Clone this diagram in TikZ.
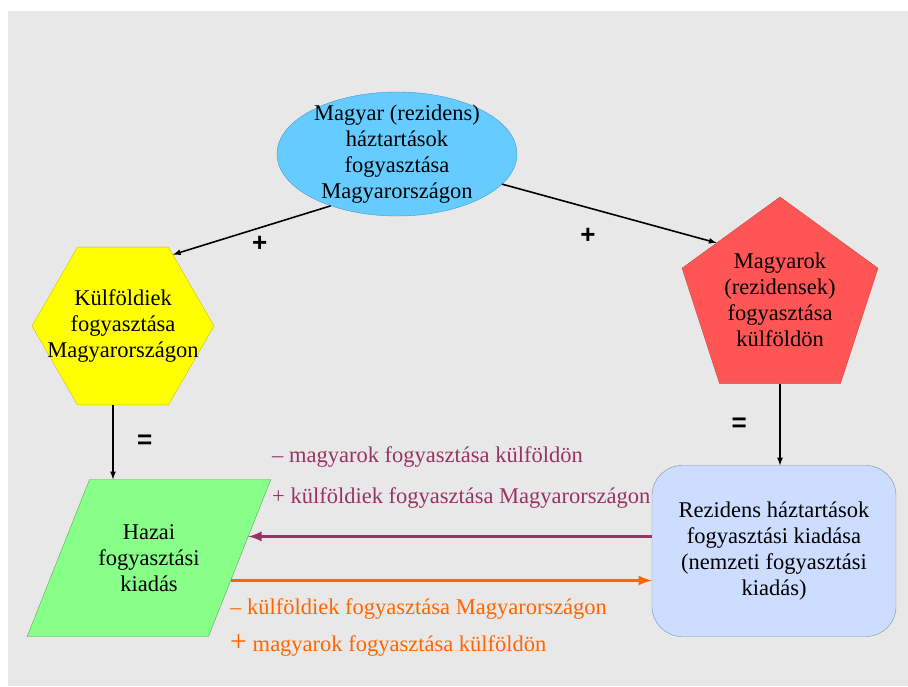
\documentclass[tikz,border=0pt]{standalone}
\usepackage{fontspec}
\setmainfont{Liberation Serif}
\setsansfont{Liberation Sans}
\usepackage{tikz}
\usetikzlibrary{arrows,calc,positioning,shapes.geometric}
\definecolor{hatter}{HTML}{E8E8E8}
\definecolor{egkek}{HTML}{66CCFF}
\definecolor{egkeret}{HTML}{4499CC}
\definecolor{sarga}{HTML}{FFFF00}
\definecolor{sargakeret}{HTML}{C8C800}
\definecolor{piros}{HTML}{FF5555}
\definecolor{piroskeret}{HTML}{D04444}
\definecolor{zold}{HTML}{88FF88}
\definecolor{zoldkeret}{HTML}{55AA55}
\definecolor{halvany}{HTML}{CCDDFF}
\definecolor{halvanykeret}{HTML}{8090B0}
\definecolor{lila}{HTML}{993366}
\definecolor{narancs}{HTML}{FF6600}
\newcommand{\sorok}[1]{\makebox[0pt]{\begin{tabular}{@{}c@{}}#1\end{tabular}}}
\tikzset{%
	oval/.style     = {draw=egkeret, fill=egkek, ellipse, minimum width=240pt, minimum height=124pt, inner xsep=0pt, inner ysep=-10pt, align=center},
	hexa/.style     = {draw=sargakeret, fill=sarga, regular polygon, regular polygon sides=6, minimum size=182pt, inner sep=0pt},
	penta/.style    = {draw=piroskeret, fill=piros, regular polygon, regular polygon sides=5, minimum size=206pt, inner sep=0pt, align=center},
	para/.style     = {draw=zoldkeret, fill=zold, trapezium, trapezium stretches=true, trapezium left angle=52.5, trapezium right angle=127.5, minimum width=244pt, minimum height=157pt, align=center},
	roundbox/.style = {draw=halvanykeret, fill=halvany, rectangle, rounded corners=30pt, minimum width=244pt, minimum height=171pt, align=center},
	arrow/.style    = {line width=1.6pt,-latex},
	flow/.style     = {line width=3.5pt,-latex},
	sign/.style     = {font=\fontsize{26}{26}\sffamily\bfseries},
	remark/.style   = {inner sep=0pt, align=left, anchor=west},
}

\begin{document}
\begin{tikzpicture}[x=1pt, y=-1pt, every node/.style={font=\fontsize{22.5}{26}\selectfont}]
	\useasboundingbox (0,0) rectangle (908,686);
	\fill[hatter] (8,11) rectangle (908,686);

	\node[oval] (haztart) at (397,154) {Magyar (rezidens)\\háztartások\\fogyasztása\\Magyarországon};
	\node[hexa] (kulf) at (123,326) {\sorok{Külföldiek\\fogyasztása\\Magyarországon}};
	\node[penta] (kint) at (780,300) {Magyarok\\(rezidensek)\\fogyasztása\\külföldön};
	\node[para] (hazai) at (149,558) {Hazai\\fogyasztási\\kiadás};
	\node[roundbox] (nemz) at (774,551) {Rezidens háztartások\\fogyasztási kiadása\\(nemzeti fogyasztási\\kiadás)};

	\node[remark, text=lila] (levon) at (272,477) {– magyarok fogyasztása külföldön\\[15pt]+ külföldiek fogyasztása Magyarországon};
	\node[remark, text=narancs] (hozzaad) at (230,627) {– külföldiek fogyasztása Magyarországon\\[11pt]{\fontsize{30}{26}\selectfont +} magyarok fogyasztása külföldön};

	\coordinate (lilaveg) at ($(hazai.top right corner)!0.363!(hazai.bottom right corner)$);
	\coordinate (narancskezd) at ($(hazai.top right corner)!0.643!(hazai.bottom right corner)$);

	\draw[arrow] (haztart.218) -- node[sign,pos=0.45,below=4pt] {+} (kulf.55);
	\draw[arrow] (haztart.-16) -- node[sign,pos=0.4,below=16pt] {+} (kint.138);
	\draw[arrow] ($(kulf.south)+(-10,0)$) -- node[sign,midway,right=20pt] {=} ($(hazai.north -| kulf.south)+(-10,0)$);
	\draw[arrow] (kint.south) -- node[sign,midway,left=29pt] {=} (kint.south |- nemz.north);
	\draw[flow, lila] (nemz.west |- lilaveg) -- (lilaveg);
	\draw[flow, narancs] (narancskezd) -- (narancskezd -| nemz.west);
\end{tikzpicture}
\end{document}
